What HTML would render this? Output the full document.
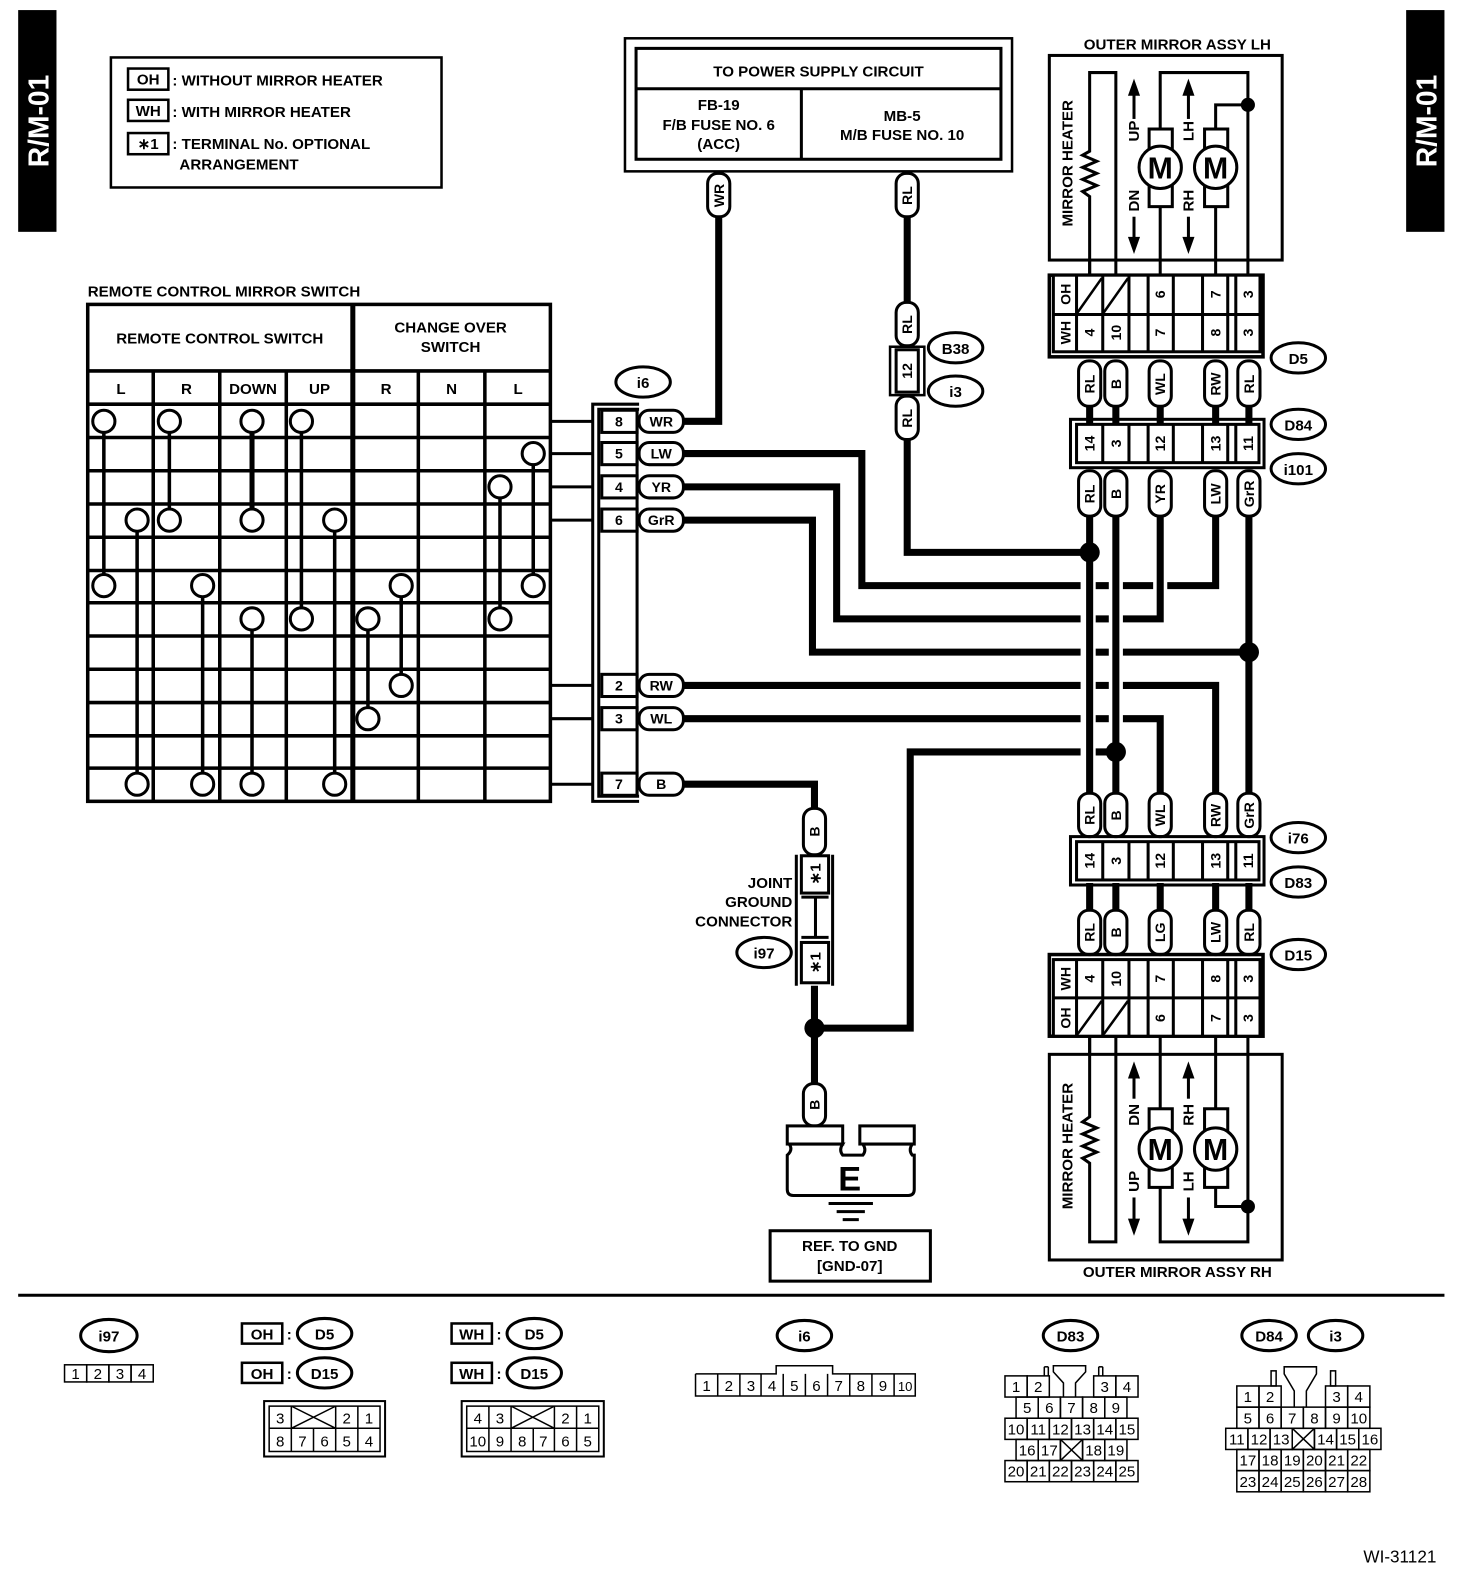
<!DOCTYPE html>
<html><head><meta charset="utf-8"><style>
html,body{margin:0;padding:0;background:#fff}
svg{display:block}
text{font-family:"Liberation Sans",Arial,sans-serif;font-weight:bold;fill:#000}
.n{font-weight:normal}
</style></head><body>
<svg width="1472" height="1580" viewBox="0 0 1460.3 1567.5" xmlns="http://www.w3.org/2000/svg">
<rect x="0" y="0" width="1461" height="1568" fill="#fff"/>
<!-- tabs -->
<rect x="18" y="10" width="38" height="220" fill="#000"/>
<text transform="translate(48,120) rotate(-90)" text-anchor="middle" font-size="28" style="fill:#fff">R/M-01</text>
<rect x="1395" y="10" width="38" height="220" fill="#000"/>
<text transform="translate(1425,120) rotate(-90)" text-anchor="middle" font-size="28" style="fill:#fff">R/M-01</text>

<!-- legend -->
<g font-size="15">
<rect x="110" y="57" width="328" height="129" fill="none" stroke="#000" stroke-width="2.5"/>
<rect x="127" y="68" width="40" height="21" fill="none" stroke="#000" stroke-width="2.5"/>
<text x="147" y="84" text-anchor="middle">OH</text>
<text x="171" y="85">: WITHOUT MIRROR HEATER</text>
<rect x="127" y="99" width="40" height="21" fill="none" stroke="#000" stroke-width="2.5"/>
<text x="147" y="115" text-anchor="middle">WH</text>
<text x="171" y="116">: WITH MIRROR HEATER</text>
<rect x="127" y="132" width="40" height="21" fill="none" stroke="#000" stroke-width="2.5"/>
<text x="147" y="148" text-anchor="middle">∗1</text>
<text x="171" y="148">: TERMINAL No. OPTIONAL</text>
<text x="178" y="168">ARRANGEMENT</text>
</g>

<!-- power supply -->
<g font-size="15" text-anchor="middle">
<rect x="620" y="38" width="384" height="132" fill="none" stroke="#000" stroke-width="2.5"/>
<rect x="631" y="48" width="362" height="110" fill="none" stroke="#000" stroke-width="3"/>
<line x1="631" y1="88" x2="993" y2="88" stroke="#000" stroke-width="3"/>
<line x1="795" y1="88" x2="795" y2="158" stroke="#000" stroke-width="3"/>
<text x="812" y="76">TO POWER SUPPLY CIRCUIT</text>
<text x="713" y="109">FB-19</text>
<text x="713" y="129">F/B FUSE NO. 6</text>
<text x="713" y="148">(ACC)</text>
<text x="895" y="120">MB-5</text>
<text x="895" y="139">M/B FUSE NO. 10</text>
</g>

<!-- thick wires -->
<g stroke="#000" stroke-width="7" fill="none" stroke-linejoin="miter">
<polyline points="713,215 713,418 678,418"/>
<line x1="900" y1="215" x2="900" y2="300"/>
<polyline points="900,436 900,548 1081,548"/>
<polyline points="678,450 855,450 855,581 1072,581"/>
<line x1="1087" y1="581" x2="1100" y2="581"/>
<line x1="1114" y1="581" x2="1144" y2="581"/>
<polyline points="1158,581 1206,581 1206,512"/>
<polyline points="678,483 830,483 830,614 1072,614"/>
<line x1="1087" y1="614" x2="1100" y2="614"/>
<polyline points="1114,614 1151,614 1151,512"/>
<polyline points="678,516 806,516 806,647 1072,647"/>
<line x1="1087" y1="647" x2="1100" y2="647"/>
<line x1="1114" y1="647" x2="1239" y2="647"/>
<line x1="678" y1="680" x2="1072" y2="680"/>
<line x1="1087" y1="680" x2="1100" y2="680"/>
<polyline points="1114,680 1206,680 1206,787"/>
<line x1="678" y1="713" x2="1072" y2="713"/>
<line x1="1087" y1="713" x2="1100" y2="713"/>
<polyline points="1114,713 1151,713 1151,787"/>
<polyline points="1072,746 903,746 903,1020 808,1020"/>
<line x1="1087" y1="746" x2="1107" y2="746"/>
<line x1="1081" y1="512" x2="1081" y2="787"/>
<line x1="1107" y1="512" x2="1107" y2="787"/>
<line x1="1239" y1="512" x2="1239" y2="787"/>
<polyline points="678,778 808,778 808,802"/>
<line x1="808" y1="978" x2="808" y2="1075"/>
<!-- connector stubs -->
<line x1="1081" y1="403" x2="1081" y2="421"/><line x1="1107" y1="403" x2="1107" y2="421"/><line x1="1151" y1="403" x2="1151" y2="421"/><line x1="1206" y1="403" x2="1206" y2="421"/><line x1="1239" y1="403" x2="1239" y2="421"/>
<line x1="1081" y1="876" x2="1081" y2="903"/><line x1="1107" y1="876" x2="1107" y2="903"/><line x1="1151" y1="876" x2="1151" y2="903"/><line x1="1206" y1="876" x2="1206" y2="903"/><line x1="1239" y1="876" x2="1239" y2="903"/>
</g>
<g fill="#000">
<circle cx="1081" cy="548" r="10"/><circle cx="1239" cy="647" r="10"/><circle cx="1107" cy="746" r="10"/><circle cx="808" cy="1020" r="10"/>
</g>

<!-- vertical pills -->
<g font-size="14" text-anchor="middle">
<g stroke="#000" stroke-width="3" fill="#fff">
<rect x="702" y="172" width="22" height="43" rx="10"/>
<rect x="889" y="172" width="22" height="43" rx="10"/>
<rect x="889" y="300" width="22" height="43" rx="10"/>
<rect x="889" y="393" width="22" height="43" rx="10"/>
<rect x="1070" y="358" width="22" height="45" rx="10"/><rect x="1096" y="358" width="22" height="45" rx="10"/><rect x="1140" y="358" width="22" height="45" rx="10"/><rect x="1195" y="358" width="22" height="45" rx="10"/><rect x="1228" y="358" width="22" height="45" rx="10"/>
<rect x="1070" y="467" width="22" height="45" rx="10"/><rect x="1096" y="467" width="22" height="45" rx="10"/><rect x="1140" y="467" width="22" height="45" rx="10"/><rect x="1195" y="467" width="22" height="45" rx="10"/><rect x="1228" y="467" width="22" height="45" rx="10"/>
<rect x="1070" y="787" width="22" height="43" rx="10"/><rect x="1096" y="787" width="22" height="43" rx="10"/><rect x="1140" y="787" width="22" height="43" rx="10"/><rect x="1195" y="787" width="22" height="43" rx="10"/><rect x="1228" y="787" width="22" height="43" rx="10"/>
<rect x="1070" y="903" width="22" height="44" rx="10"/><rect x="1096" y="903" width="22" height="44" rx="10"/><rect x="1140" y="903" width="22" height="44" rx="10"/><rect x="1195" y="903" width="22" height="44" rx="10"/><rect x="1228" y="903" width="22" height="44" rx="10"/>
<rect x="797" y="802" width="22" height="46" rx="10"/>
<rect x="797" y="1075" width="22" height="42" rx="10"/>
</g>
<text transform="translate(718,194) rotate(-90)">WR</text>
<text transform="translate(905,194) rotate(-90)">RL</text>
<text transform="translate(905,322) rotate(-90)">RL</text>
<text transform="translate(905,415) rotate(-90)">RL</text>
<text transform="translate(1086,381) rotate(-90)">RL</text><text transform="translate(1112,381) rotate(-90)">B</text><text transform="translate(1156,381) rotate(-90)">WL</text><text transform="translate(1211,381) rotate(-90)">RW</text><text transform="translate(1244,381) rotate(-90)">RL</text>
<text transform="translate(1086,490) rotate(-90)">RL</text><text transform="translate(1112,490) rotate(-90)">B</text><text transform="translate(1156,490) rotate(-90)">YR</text><text transform="translate(1211,490) rotate(-90)">LW</text><text transform="translate(1244,490) rotate(-90)">GrR</text>
<text transform="translate(1086,809) rotate(-90)">RL</text><text transform="translate(1112,809) rotate(-90)">B</text><text transform="translate(1156,809) rotate(-90)">WL</text><text transform="translate(1211,809) rotate(-90)">RW</text><text transform="translate(1244,809) rotate(-90)">GrR</text>
<text transform="translate(1086,925) rotate(-90)">RL</text><text transform="translate(1112,925) rotate(-90)">B</text><text transform="translate(1156,925) rotate(-90)">LG</text><text transform="translate(1211,925) rotate(-90)">LW</text><text transform="translate(1244,925) rotate(-90)">RL</text>
<text transform="translate(813,825) rotate(-90)">B</text>
<text transform="translate(813,1096) rotate(-90)">B</text>
</g>

<!-- B38/i3 connector -->
<g stroke="#000" fill="none">
<rect x="883" y="344" width="34" height="48" stroke-width="2.5"/>
<rect x="889" y="347" width="22" height="42" stroke-width="3" fill="#fff"/>
</g>
<text transform="translate(905,368) rotate(-90)" text-anchor="middle" font-size="14">12</text>

<!-- ovals -->
<g stroke="#000" stroke-width="3" fill="#fff">
<ellipse cx="948" cy="345" rx="27" ry="15"/><ellipse cx="948" cy="388" rx="27" ry="15"/>
<ellipse cx="638" cy="379" rx="27" ry="15"/>
<ellipse cx="1288" cy="355" rx="27" ry="15"/>
<ellipse cx="1288" cy="421" rx="27" ry="15"/><ellipse cx="1288" cy="465" rx="27" ry="15"/>
<ellipse cx="1288" cy="831" rx="27" ry="15"/><ellipse cx="1288" cy="875" rx="27" ry="15"/>
<ellipse cx="1288" cy="947" rx="27" ry="15"/>
<ellipse cx="758" cy="945" rx="27" ry="15"/>
<ellipse cx="108" cy="1325" rx="28" ry="16"/>
<ellipse cx="322" cy="1323" rx="27" ry="15"/><ellipse cx="322" cy="1362" rx="27" ry="15"/>
<ellipse cx="530" cy="1323" rx="27" ry="15"/><ellipse cx="530" cy="1362" rx="27" ry="15"/>
<ellipse cx="798" cy="1325" rx="27" ry="15"/>
<ellipse cx="1062" cy="1325" rx="27" ry="15"/>
<ellipse cx="1259" cy="1325" rx="27" ry="15"/><ellipse cx="1325" cy="1325" rx="27" ry="15"/>
</g>
<g font-size="15" text-anchor="middle">
<text x="948" y="351">B38</text><text x="948" y="394">i3</text><text x="638" y="385">i6</text>
<text x="1288" y="361">D5</text><text x="1288" y="427">D84</text><text x="1288" y="471">i101</text>
<text x="1288" y="837">i76</text><text x="1288" y="881">D83</text><text x="1288" y="953">D15</text>
<text x="758" y="951">i97</text><text x="108" y="1331">i97</text>
<text x="322" y="1329">D5</text><text x="322" y="1368">D15</text>
<text x="530" y="1329">D5</text><text x="530" y="1368">D15</text>
<text x="798" y="1331">i6</text><text x="1062" y="1331">D83</text><text x="1259" y="1331">D84</text><text x="1325" y="1331">i3</text>
</g>

<!-- switch table -->
<text x="87" y="294" font-size="15">REMOTE CONTROL MIRROR SWITCH</text>
<g stroke="#000" stroke-width="3.5" fill="none">
<rect x="87" y="302" width="459" height="493"/>
<line x1="87" y1="368" x2="546" y2="368"/>
<line x1="87" y1="401" x2="546" y2="401"/>
<line x1="350" y1="302" x2="350" y2="795" stroke-width="5"/>
<line x1="152" y1="368" x2="152" y2="795"/><line x1="218" y1="368" x2="218" y2="795"/><line x1="284" y1="368" x2="284" y2="795"/>
<line x1="415" y1="368" x2="415" y2="795"/><line x1="481" y1="368" x2="481" y2="795"/>
<line x1="87" y1="434" x2="546" y2="434"/><line x1="87" y1="467" x2="546" y2="467"/><line x1="87" y1="500" x2="546" y2="500"/><line x1="87" y1="533" x2="546" y2="533"/><line x1="87" y1="566" x2="546" y2="566"/><line x1="87" y1="598" x2="546" y2="598"/><line x1="87" y1="631" x2="546" y2="631"/><line x1="87" y1="664" x2="546" y2="664"/><line x1="87" y1="697" x2="546" y2="697"/><line x1="87" y1="730" x2="546" y2="730"/><line x1="87" y1="762" x2="546" y2="762"/>
</g>
<g font-size="15" text-anchor="middle">
<text x="218" y="341">REMOTE CONTROL SWITCH</text>
<text x="447" y="330">CHANGE OVER</text><text x="447" y="349">SWITCH</text>
<text x="120" y="391">L</text><text x="185" y="391">R</text><text x="251" y="391">DOWN</text><text x="317" y="391">UP</text><text x="383" y="391">R</text><text x="448" y="391">N</text><text x="514" y="391">L</text>
</g>
<g stroke="#000" stroke-width="3.5">
<line x1="103" y1="418" x2="103" y2="581"/><line x1="168" y1="418" x2="168" y2="516"/><line x1="250" y1="418" x2="250" y2="516" stroke-width="5"/><line x1="299" y1="418" x2="299" y2="614"/>
<line x1="529" y1="450" x2="529" y2="581"/><line x1="496" y1="483" x2="496" y2="614"/>
<line x1="136" y1="516" x2="136" y2="778"/><line x1="332" y1="516" x2="332" y2="778"/><line x1="201" y1="581" x2="201" y2="778"/>
<line x1="398" y1="581" x2="398" y2="680"/><line x1="250" y1="614" x2="250" y2="778"/><line x1="365" y1="614" x2="365" y2="713"/>
</g>
<g stroke="#000" stroke-width="3" fill="#fff">
<circle cx="103" cy="418" r="11"/><circle cx="168" cy="418" r="11"/><circle cx="250" cy="418" r="11"/><circle cx="299" cy="418" r="11"/>
<circle cx="529" cy="450" r="11"/><circle cx="496" cy="483" r="11"/>
<circle cx="136" cy="516" r="11"/><circle cx="168" cy="516" r="11"/><circle cx="250" cy="516" r="11"/><circle cx="332" cy="516" r="11"/>
<circle cx="103" cy="581" r="11"/><circle cx="201" cy="581" r="11"/><circle cx="398" cy="581" r="11"/><circle cx="529" cy="581" r="11"/>
<circle cx="250" cy="614" r="11"/><circle cx="299" cy="614" r="11"/><circle cx="365" cy="614" r="11"/><circle cx="496" cy="614" r="11"/>
<circle cx="398" cy="680" r="11"/><circle cx="365" cy="713" r="11"/>
<circle cx="136" cy="778" r="11"/><circle cx="201" cy="778" r="11"/><circle cx="250" cy="778" r="11"/><circle cx="332" cy="778" r="11"/>
</g>

<!-- i6 connector -->
<g stroke="#000" stroke-width="3" fill="none">
<line x1="546" y1="418" x2="588" y2="418"/><line x1="546" y1="450" x2="588" y2="450"/><line x1="546" y1="483" x2="588" y2="483"/><line x1="546" y1="516" x2="588" y2="516"/><line x1="546" y1="680" x2="588" y2="680"/><line x1="546" y1="713" x2="588" y2="713"/><line x1="546" y1="778" x2="588" y2="778"/>
<polyline points="634,401 588,401 588,795 634,795"/>
<polyline points="634,406 594,406 594,790 634,790"/>
<line x1="632" y1="406" x2="632" y2="790"/>
<rect x="597" y="407" width="35" height="22"/><rect x="597" y="439" width="35" height="22"/><rect x="597" y="472" width="35" height="22"/><rect x="597" y="505" width="35" height="22"/><rect x="597" y="669" width="35" height="22"/><rect x="597" y="702" width="35" height="22"/><rect x="597" y="767" width="35" height="22"/>
</g>
<g font-size="14" text-anchor="middle">
<text x="614" y="423">8</text><text x="614" y="455">5</text><text x="614" y="488">4</text><text x="614" y="521">6</text><text x="614" y="685">2</text><text x="614" y="718">3</text><text x="614" y="783">7</text>
</g>
<g stroke="#000" stroke-width="3" fill="#fff">
<rect x="634" y="407" width="44" height="22" rx="10"/><rect x="634" y="439" width="44" height="22" rx="10"/><rect x="634" y="472" width="44" height="22" rx="10"/><rect x="634" y="505" width="44" height="22" rx="10"/><rect x="634" y="669" width="44" height="22" rx="10"/><rect x="634" y="702" width="44" height="22" rx="10"/><rect x="634" y="767" width="44" height="22" rx="10"/>
</g>
<g font-size="14" text-anchor="middle">
<text x="656" y="423">WR</text><text x="656" y="455">LW</text><text x="656" y="488">YR</text><text x="656" y="521">GrR</text><text x="656" y="685">RW</text><text x="656" y="718">WL</text><text x="656" y="783">B</text>
</g>

<!-- Mirror LH -->
<text x="1168" y="49" font-size="15" text-anchor="middle">OUTER MIRROR ASSY LH</text>
<g stroke="#000" fill="none" stroke-width="3">
<rect x="1041" y="55" width="231" height="203"/>
<polyline points="1081,273 1081,195 1074,190 1088,184 1074,178 1088,172 1074,166 1088,160 1074,154 1081,150 1081,72 1107,72 1107,273"/>
<polyline points="1151,128 1151,72 1238,72 1238,273"/>
<polyline points="1206,128 1206,104 1238,104"/>
<line x1="1151" y1="205" x2="1151" y2="273"/>
<line x1="1206" y1="205" x2="1206" y2="273"/>
<rect x="1140" y="128" width="23" height="77" fill="#fff"/>
<rect x="1195" y="128" width="23" height="77" fill="#fff"/>
<circle cx="1151" cy="166" r="21" fill="#fff"/>
<circle cx="1206" cy="166" r="21" fill="#fff"/>
<line x1="1125" y1="118" x2="1125" y2="90"/><line x1="1125" y1="215" x2="1125" y2="240"/>
<line x1="1179" y1="118" x2="1179" y2="90"/><line x1="1179" y1="215" x2="1179" y2="240"/>
<line x1="1081" y1="258" x2="1081" y2="273"/>
</g>
<g fill="#000">
<circle cx="1238" cy="104" r="7"/>
<polygon points="1125,78 1119,95 1131,95"/><polygon points="1125,252 1119,235 1131,235"/>
<polygon points="1179,78 1173,95 1185,95"/><polygon points="1179,252 1173,235 1185,235"/>
</g>
<g font-size="15" text-anchor="middle">
<text transform="translate(1064,162) rotate(-90)">MIRROR HEATER</text>
<text transform="translate(1130,130) rotate(-90)">UP</text><text transform="translate(1130,199) rotate(-90)">DN</text>
<text transform="translate(1184,130) rotate(-90)">LH</text><text transform="translate(1184,199) rotate(-90)">RH</text>
<text x="1151" y="177" font-size="30">M</text><text x="1206" y="177" font-size="30">M</text>
</g>

<!-- D5 connector -->
<g stroke="#000" fill="none" stroke-width="3">
<rect x="1041" y="273" width="212" height="81" stroke-width="3.5"/>
<rect x="1045" y="273" width="205" height="76" fill="#fff"/>
<line x1="1045" y1="312" x2="1250" y2="312"/>
<line x1="1068" y1="273" x2="1068" y2="349"/><line x1="1094" y1="273" x2="1094" y2="349"/><line x1="1120" y1="273" x2="1120" y2="349"/><line x1="1139" y1="273" x2="1139" y2="349"/><line x1="1164" y1="273" x2="1164" y2="349"/><line x1="1193" y1="273" x2="1193" y2="349"/><line x1="1218" y1="273" x2="1218" y2="349"/><line x1="1226" y1="273" x2="1226" y2="349"/>
<line x1="1069" y1="310" x2="1093" y2="276" stroke-width="2.5"/><line x1="1095" y1="310" x2="1119" y2="276" stroke-width="2.5"/>
</g>
<g font-size="14" text-anchor="middle">
<text transform="translate(1062,292) rotate(-90)">OH</text><text transform="translate(1062,330) rotate(-90)">WH</text>
<text transform="translate(1156,292) rotate(-90)">6</text><text transform="translate(1211,292) rotate(-90)">7</text><text transform="translate(1243,292) rotate(-90)">3</text>
<text transform="translate(1086,330) rotate(-90)">4</text><text transform="translate(1112,330) rotate(-90)">10</text><text transform="translate(1156,330) rotate(-90)">7</text><text transform="translate(1211,330) rotate(-90)">8</text><text transform="translate(1243,330) rotate(-90)">3</text>
</g>

<!-- D84/i101 connector -->
<g stroke="#000" fill="none" stroke-width="3">
<rect x="1062" y="416" width="192" height="48"/>
<rect x="1068" y="421" width="181" height="38" fill="#fff"/>
<line x1="1094" y1="421" x2="1094" y2="459"/><line x1="1120" y1="421" x2="1120" y2="459"/><line x1="1139" y1="421" x2="1139" y2="459"/><line x1="1164" y1="421" x2="1164" y2="459"/><line x1="1193" y1="421" x2="1193" y2="459"/><line x1="1218" y1="421" x2="1218" y2="459"/><line x1="1226" y1="421" x2="1226" y2="459"/>
</g>
<g font-size="14" text-anchor="middle">
<text transform="translate(1086,440) rotate(-90)">14</text><text transform="translate(1112,440) rotate(-90)">3</text><text transform="translate(1156,440) rotate(-90)">12</text><text transform="translate(1211,440) rotate(-90)">13</text><text transform="translate(1243,440) rotate(-90)">11</text>
</g>

<!-- i76/D83 connector -->
<g stroke="#000" fill="none" stroke-width="3">
<rect x="1062" y="830" width="192" height="48"/>
<rect x="1068" y="835" width="181" height="38" fill="#fff"/>
<line x1="1094" y1="835" x2="1094" y2="873"/><line x1="1120" y1="835" x2="1120" y2="873"/><line x1="1139" y1="835" x2="1139" y2="873"/><line x1="1164" y1="835" x2="1164" y2="873"/><line x1="1193" y1="835" x2="1193" y2="873"/><line x1="1218" y1="835" x2="1218" y2="873"/><line x1="1226" y1="835" x2="1226" y2="873"/>
</g>
<g font-size="14" text-anchor="middle">
<text transform="translate(1086,854) rotate(-90)">14</text><text transform="translate(1112,854) rotate(-90)">3</text><text transform="translate(1156,854) rotate(-90)">12</text><text transform="translate(1211,854) rotate(-90)">13</text><text transform="translate(1243,854) rotate(-90)">11</text>
</g>

<!-- D15 connector -->
<g stroke="#000" fill="none" stroke-width="3">
<rect x="1041" y="947" width="212" height="81" stroke-width="3.5"/>
<rect x="1045" y="952" width="205" height="76" fill="#fff"/>
<line x1="1045" y1="990" x2="1250" y2="990"/>
<line x1="1068" y1="952" x2="1068" y2="1028"/><line x1="1094" y1="952" x2="1094" y2="1028"/><line x1="1120" y1="952" x2="1120" y2="1028"/><line x1="1139" y1="952" x2="1139" y2="1028"/><line x1="1164" y1="952" x2="1164" y2="1028"/><line x1="1193" y1="952" x2="1193" y2="1028"/><line x1="1218" y1="952" x2="1218" y2="1028"/><line x1="1226" y1="952" x2="1226" y2="1028"/>
<line x1="1069" y1="1026" x2="1093" y2="993" stroke-width="2.5"/><line x1="1095" y1="1026" x2="1119" y2="993" stroke-width="2.5"/>
<line x1="1081" y1="1028" x2="1081" y2="1046"/>
</g>
<g font-size="14" text-anchor="middle">
<text transform="translate(1062,971) rotate(-90)">WH</text><text transform="translate(1062,1010) rotate(-90)">OH</text>
<text transform="translate(1086,971) rotate(-90)">4</text><text transform="translate(1112,971) rotate(-90)">10</text><text transform="translate(1156,971) rotate(-90)">7</text><text transform="translate(1211,971) rotate(-90)">8</text><text transform="translate(1243,971) rotate(-90)">3</text>
<text transform="translate(1156,1010) rotate(-90)">6</text><text transform="translate(1211,1010) rotate(-90)">7</text><text transform="translate(1243,1010) rotate(-90)">3</text>
</g>

<!-- Mirror RH -->
<text x="1168" y="1267" font-size="15" text-anchor="middle">OUTER MIRROR ASSY RH</text>
<g stroke="#000" fill="none" stroke-width="3">
<rect x="1041" y="1046" width="231" height="204"/>
<polyline points="1081,1028 1081,1108 1074,1113 1088,1119 1074,1125 1088,1131 1074,1137 1088,1143 1074,1149 1081,1154 1081,1232 1107,1232 1107,1028"/>
<polyline points="1151,1178 1151,1232 1238,1232 1238,1028"/>
<polyline points="1206,1178 1206,1197 1238,1197"/>
<line x1="1151" y1="1028" x2="1151" y2="1100"/>
<line x1="1206" y1="1028" x2="1206" y2="1100"/>
<rect x="1140" y="1100" width="23" height="78" fill="#fff"/>
<rect x="1195" y="1100" width="23" height="78" fill="#fff"/>
<circle cx="1151" cy="1140" r="21" fill="#fff"/>
<circle cx="1206" cy="1140" r="21" fill="#fff"/>
<line x1="1125" y1="1090" x2="1125" y2="1065"/><line x1="1125" y1="1188" x2="1125" y2="1214"/>
<line x1="1179" y1="1090" x2="1179" y2="1065"/><line x1="1179" y1="1188" x2="1179" y2="1214"/>
</g>
<g fill="#000">
<circle cx="1238" cy="1197" r="7"/>
<polygon points="1125,1053 1119,1070 1131,1070"/><polygon points="1125,1226 1119,1209 1131,1209"/>
<polygon points="1179,1053 1173,1070 1185,1070"/><polygon points="1179,1226 1173,1209 1185,1209"/>
</g>
<g font-size="15" text-anchor="middle">
<text transform="translate(1064,1137) rotate(-90)">MIRROR HEATER</text>
<text transform="translate(1130,1106) rotate(-90)">DN</text><text transform="translate(1130,1172) rotate(-90)">UP</text>
<text transform="translate(1184,1106) rotate(-90)">RH</text><text transform="translate(1184,1172) rotate(-90)">LH</text>
<text x="1151" y="1151" font-size="30">M</text><text x="1206" y="1151" font-size="30">M</text>
</g>

<!-- i97 joint connector -->
<g stroke="#000" fill="none" stroke-width="3">
<line x1="790" y1="848" x2="790" y2="978"/><line x1="826" y1="848" x2="826" y2="978"/>
<rect x="795" y="849" width="27" height="37" fill="#fff"/>
<rect x="795" y="935" width="27" height="40" fill="#fff"/>
<line x1="795" y1="890" x2="822" y2="890"/><line x1="795" y1="930" x2="822" y2="930"/>
<line x1="809" y1="890" x2="809" y2="930"/>
</g>
<g font-size="15" text-anchor="middle">
<text transform="translate(814,867) rotate(-90)">∗1</text>
<text transform="translate(814,955) rotate(-90)">∗1</text>
</g>
<g font-size="15" text-anchor="end">
<text x="786" y="881">JOINT</text><text x="786" y="900">GROUND</text><text x="786" y="919">CONNECTOR</text>
</g>

<!-- ground -->
<g stroke="#000" stroke-width="3" fill="#fff">
<rect x="781" y="1117" width="55" height="18"/>
<rect x="853" y="1117" width="54" height="18"/>
<path d="M783,1135 L836,1135 Q832,1141 836,1146 L856,1146 Q860,1141 856,1135 L905,1135 Q901,1141 905,1146 L907,1146 L907,1180 Q907,1186 901,1186 L787,1186 Q781,1186 781,1180 L781,1146 Q787,1141 783,1135 Z"/>
</g>
<text x="843" y="1181" font-size="34" text-anchor="middle">E</text>
<g stroke="#000" stroke-width="3">
<line x1="822" y1="1194" x2="866" y2="1194"/><line x1="830" y1="1202" x2="858" y2="1202"/><line x1="836" y1="1210" x2="852" y2="1210"/>
</g>
<rect x="764" y="1221" width="159" height="50" fill="none" stroke="#000" stroke-width="3"/>
<text x="843" y="1241" font-size="15" text-anchor="middle">REF. TO GND</text>
<text x="843" y="1261" font-size="15" text-anchor="middle">[GND-07]</text>

<!-- separator -->
<line x1="18" y1="1285" x2="1433" y2="1285" stroke="#000" stroke-width="3"/>

<!-- bottom connectors -->
<g font-size="15" text-anchor="middle">
<g stroke="#000" stroke-width="2.5" fill="none">
<rect x="240" y="1313" width="40" height="20"/><rect x="240" y="1352" width="40" height="20"/>
<rect x="448" y="1313" width="40" height="20"/><rect x="448" y="1352" width="40" height="20"/>
</g>
<text x="260" y="1329">OH</text><text x="260" y="1368">OH</text><text x="468" y="1329">WH</text><text x="468" y="1368">WH</text>
<text x="287" y="1329">:</text><text x="287" y="1368">:</text><text x="495" y="1329">:</text><text x="495" y="1368">:</text>
</g>
<g stroke="#000" stroke-width="1.5" fill="none">
<!-- i97 -->
<rect x="64" y="1354" width="22" height="17"/><rect x="86" y="1354" width="22" height="17"/><rect x="108" y="1354" width="22" height="17"/><rect x="130" y="1354" width="22" height="17"/>
<!-- OH D5/D15 -->
<rect x="262" y="1390" width="120" height="55" stroke-width="2"/>
<rect x="267" y="1395" width="110" height="45"/>
<line x1="267" y1="1417" x2="377" y2="1417"/>
<line x1="289" y1="1395" x2="289" y2="1440"/><line x1="311" y1="1417" x2="311" y2="1440"/><line x1="333" y1="1395" x2="333" y2="1440"/><line x1="355" y1="1395" x2="355" y2="1440"/>
<line x1="289" y1="1395" x2="333" y2="1417"/><line x1="289" y1="1417" x2="333" y2="1395"/>
<!-- WH D5/D15 -->
<rect x="458" y="1390" width="141" height="55" stroke-width="2"/>
<rect x="463" y="1395" width="131" height="45"/>
<line x1="463" y1="1417" x2="594" y2="1417"/>
<line x1="485" y1="1395" x2="485" y2="1440"/><line x1="507" y1="1395" x2="507" y2="1440"/><line x1="529" y1="1417" x2="529" y2="1440"/><line x1="550" y1="1395" x2="550" y2="1440"/><line x1="572" y1="1395" x2="572" y2="1440"/>
<line x1="507" y1="1395" x2="550" y2="1417"/><line x1="507" y1="1417" x2="550" y2="1395"/>
<!-- i6 -->
<polyline points="690,1363 770,1363 770,1355 826,1355 826,1363 908,1363 908,1385 690,1385 690,1363"/>
<line x1="712" y1="1363" x2="712" y2="1385"/><line x1="734" y1="1363" x2="734" y2="1385"/><line x1="755" y1="1363" x2="755" y2="1385"/><line x1="777" y1="1363" x2="777" y2="1385"/><line x1="799" y1="1363" x2="799" y2="1385"/><line x1="821" y1="1363" x2="821" y2="1385"/><line x1="843" y1="1363" x2="843" y2="1385"/><line x1="865" y1="1363" x2="865" y2="1385"/><line x1="887" y1="1363" x2="887" y2="1385"/>
</g>
<g font-size="15" class="n" text-anchor="middle" style="font-weight:normal">
<text x="75" y="1368" style="font-weight:normal">1</text><text x="97" y="1368" style="font-weight:normal">2</text><text x="119" y="1368" style="font-weight:normal">3</text><text x="141" y="1368" style="font-weight:normal">4</text>
<text x="278" y="1412" style="font-weight:normal">3</text><text x="344" y="1412" style="font-weight:normal">2</text><text x="366" y="1412" style="font-weight:normal">1</text>
<text x="278" y="1435" style="font-weight:normal">8</text><text x="300" y="1435" style="font-weight:normal">7</text><text x="322" y="1435" style="font-weight:normal">6</text><text x="344" y="1435" style="font-weight:normal">5</text><text x="366" y="1435" style="font-weight:normal">4</text>
<text x="474" y="1412" style="font-weight:normal">4</text><text x="496" y="1412" style="font-weight:normal">3</text><text x="561" y="1412" style="font-weight:normal">2</text><text x="583" y="1412" style="font-weight:normal">1</text>
<text x="474" y="1435" style="font-weight:normal">10</text><text x="496" y="1435" style="font-weight:normal">9</text><text x="518" y="1435" style="font-weight:normal">8</text><text x="539" y="1435" style="font-weight:normal">7</text><text x="561" y="1435" style="font-weight:normal">6</text><text x="583" y="1435" style="font-weight:normal">5</text>
<text x="701" y="1380" style="font-weight:normal">1</text><text x="723" y="1380" style="font-weight:normal">2</text><text x="745" y="1380" style="font-weight:normal">3</text><text x="766" y="1380" style="font-weight:normal">4</text><text x="788" y="1380" style="font-weight:normal">5</text><text x="810" y="1380" style="font-weight:normal">6</text><text x="832" y="1380" style="font-weight:normal">7</text><text x="854" y="1380" style="font-weight:normal">8</text><text x="876" y="1380" style="font-weight:normal">9</text><text x="898" y="1380" style="font-weight:normal" font-size="13">10</text>
</g>

<!-- D83 grid -->
<g stroke="#000" stroke-width="1.5" fill="none">
<rect x="997" y="1365" width="22" height="21"/><rect x="1019" y="1365" width="22" height="21"/>
<rect x="1085" y="1365" width="22" height="21"/><rect x="1107" y="1365" width="22" height="21"/>
<line x1="1036" y1="1365" x2="1036" y2="1356"/><line x1="1040" y1="1365" x2="1040" y2="1356"/><line x1="1036" y1="1356" x2="1040" y2="1356"/>
<line x1="1090" y1="1365" x2="1090" y2="1356"/><line x1="1094" y1="1365" x2="1094" y2="1356"/><line x1="1090" y1="1356" x2="1094" y2="1356"/>
<polyline points="1055,1386 1055,1372 1045,1361 1045,1355 1077,1355 1077,1361 1067,1372 1067,1386"/>
<rect x="1008" y="1386" width="22" height="21"/><rect x="1030" y="1386" width="22" height="21"/><rect x="1052" y="1386" width="22" height="21"/><rect x="1074" y="1386" width="22" height="21"/><rect x="1096" y="1386" width="22" height="21"/>
<rect x="997" y="1407" width="22" height="21"/><rect x="1019" y="1407" width="22" height="21"/><rect x="1041" y="1407" width="22" height="21"/><rect x="1063" y="1407" width="22" height="21"/><rect x="1085" y="1407" width="22" height="21"/><rect x="1107" y="1407" width="22" height="21"/>
<rect x="1008" y="1428" width="22" height="21"/><rect x="1030" y="1428" width="22" height="21"/><rect x="1052" y="1428" width="22" height="21"/><rect x="1074" y="1428" width="22" height="21"/><rect x="1096" y="1428" width="22" height="21"/>
<line x1="1052" y1="1428" x2="1074" y2="1449"/><line x1="1052" y1="1449" x2="1074" y2="1428"/>
<rect x="997" y="1449" width="22" height="21"/><rect x="1019" y="1449" width="22" height="21"/><rect x="1041" y="1449" width="22" height="21"/><rect x="1063" y="1449" width="22" height="21"/><rect x="1085" y="1449" width="22" height="21"/><rect x="1107" y="1449" width="22" height="21"/>
</g>
<g font-size="15" text-anchor="middle" style="font-weight:normal">
<text x="1008" y="1381" style="font-weight:normal">1</text><text x="1030" y="1381" style="font-weight:normal">2</text><text x="1096" y="1381" style="font-weight:normal">3</text><text x="1118" y="1381" style="font-weight:normal">4</text>
<text x="1019" y="1402" style="font-weight:normal">5</text><text x="1041" y="1402" style="font-weight:normal">6</text><text x="1063" y="1402" style="font-weight:normal">7</text><text x="1085" y="1402" style="font-weight:normal">8</text><text x="1107" y="1402" style="font-weight:normal">9</text>
<text x="1008" y="1423" style="font-weight:normal">10</text><text x="1030" y="1423" style="font-weight:normal">11</text><text x="1052" y="1423" style="font-weight:normal">12</text><text x="1074" y="1423" style="font-weight:normal">13</text><text x="1096" y="1423" style="font-weight:normal">14</text><text x="1118" y="1423" style="font-weight:normal">15</text>
<text x="1019" y="1444" style="font-weight:normal">16</text><text x="1041" y="1444" style="font-weight:normal">17</text><text x="1085" y="1444" style="font-weight:normal">18</text><text x="1107" y="1444" style="font-weight:normal">19</text>
<text x="1008" y="1465" style="font-weight:normal">20</text><text x="1030" y="1465" style="font-weight:normal">21</text><text x="1052" y="1465" style="font-weight:normal">22</text><text x="1074" y="1465" style="font-weight:normal">23</text><text x="1096" y="1465" style="font-weight:normal">24</text><text x="1118" y="1465" style="font-weight:normal">25</text>
</g>

<!-- D84 grid -->
<g stroke="#000" stroke-width="1.5" fill="none">
<rect x="1227" y="1375" width="22" height="21"/><rect x="1249" y="1375" width="22" height="21"/>
<rect x="1315" y="1375" width="22" height="21"/><rect x="1337" y="1375" width="22" height="21"/>
<rect x="1261" y="1360" width="5" height="15"/><rect x="1320" y="1360" width="5" height="15"/>
<polyline points="1284,1396 1284,1380 1274,1363 1274,1356 1306,1356 1306,1363 1296,1380 1296,1396"/>
<rect x="1227" y="1396" width="22" height="21"/><rect x="1249" y="1396" width="22" height="21"/><rect x="1271" y="1396" width="22" height="21"/><rect x="1293" y="1396" width="22" height="21"/><rect x="1315" y="1396" width="22" height="21"/><rect x="1337" y="1396" width="22" height="21"/>
<rect x="1216" y="1417" width="22" height="21"/><rect x="1238" y="1417" width="22" height="21"/><rect x="1260" y="1417" width="22" height="21"/><rect x="1282" y="1417" width="22" height="21"/><rect x="1304" y="1417" width="22" height="21"/><rect x="1326" y="1417" width="22" height="21"/><rect x="1348" y="1417" width="22" height="21"/>
<line x1="1282" y1="1417" x2="1304" y2="1438"/><line x1="1282" y1="1438" x2="1304" y2="1417"/>
<rect x="1227" y="1438" width="22" height="21"/><rect x="1249" y="1438" width="22" height="21"/><rect x="1271" y="1438" width="22" height="21"/><rect x="1293" y="1438" width="22" height="21"/><rect x="1315" y="1438" width="22" height="21"/><rect x="1337" y="1438" width="22" height="21"/>
<rect x="1227" y="1459" width="22" height="21"/><rect x="1249" y="1459" width="22" height="21"/><rect x="1271" y="1459" width="22" height="21"/><rect x="1293" y="1459" width="22" height="21"/><rect x="1315" y="1459" width="22" height="21"/><rect x="1337" y="1459" width="22" height="21"/>
</g>
<g font-size="15" text-anchor="middle">
<text x="1238" y="1391" style="font-weight:normal">1</text><text x="1260" y="1391" style="font-weight:normal">2</text><text x="1326" y="1391" style="font-weight:normal">3</text><text x="1348" y="1391" style="font-weight:normal">4</text>
<text x="1238" y="1412" style="font-weight:normal">5</text><text x="1260" y="1412" style="font-weight:normal">6</text><text x="1282" y="1412" style="font-weight:normal">7</text><text x="1304" y="1412" style="font-weight:normal">8</text><text x="1326" y="1412" style="font-weight:normal">9</text><text x="1348" y="1412" style="font-weight:normal">10</text>
<text x="1227" y="1433" style="font-weight:normal">11</text><text x="1249" y="1433" style="font-weight:normal">12</text><text x="1271" y="1433" style="font-weight:normal">13</text><text x="1315" y="1433" style="font-weight:normal">14</text><text x="1337" y="1433" style="font-weight:normal">15</text><text x="1359" y="1433" style="font-weight:normal">16</text>
<text x="1238" y="1454" style="font-weight:normal">17</text><text x="1260" y="1454" style="font-weight:normal">18</text><text x="1282" y="1454" style="font-weight:normal">19</text><text x="1304" y="1454" style="font-weight:normal">20</text><text x="1326" y="1454" style="font-weight:normal">21</text><text x="1348" y="1454" style="font-weight:normal">22</text>
<text x="1238" y="1475" style="font-weight:normal">23</text><text x="1260" y="1475" style="font-weight:normal">24</text><text x="1282" y="1475" style="font-weight:normal">25</text><text x="1304" y="1475" style="font-weight:normal">26</text><text x="1326" y="1475" style="font-weight:normal">27</text><text x="1348" y="1475" style="font-weight:normal">28</text>
</g>

<text x="1425" y="1550" font-size="17" text-anchor="end" style="font-weight:normal">WI-31121</text>
</svg>
</body></html>
